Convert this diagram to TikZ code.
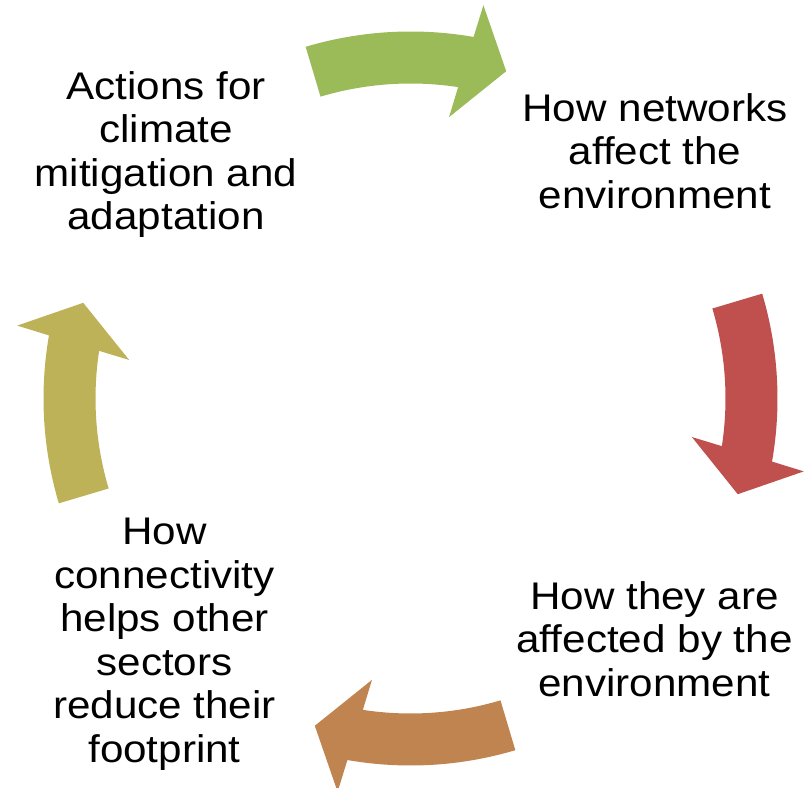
\documentclass[tikz,border=0pt]{standalone}
\usepackage{fontspec}
\setmainfont{Liberation Sans}[FakeStretch=1.095]
\definecolor{cyclegreen}{RGB}{155,187,89}
\definecolor{cyclered}{RGB}{192,80,77}
\definecolor{cyclebrown}{RGB}{192,132,80}
\definecolor{cycleolive}{RGB}{189,178,88}
\tikzset{
  label text/.style={align=center, inner sep=0pt, text=black,
    font=\fontsize{28.9}{32.6}\selectfont},
}
\begin{document}
\begin{tikzpicture}[x=0.75pt,y=0.75pt]
\useasboundingbox (0,0) rectangle (806,788);
% four curved block arrows around a common centre, running clockwise
\begin{scope}[shift={(410.5,389.5)}]
\foreach \a/\c in {90/cyclegreen, 0/cyclered, -90/cyclebrown, 180/cycleolive}{
  \fill[\c] ({\a+16.6}:367)
    arc[start angle={\a+16.6}, end angle={\a-9.9}, radius=275.25pt]
    -- ({\a-10.5}:400) -- ({\a-16.3}:341) -- ({\a-7.8}:284) -- ({\a-8.7}:315)
    arc[start angle={\a-8.7}, end angle={\a+16.6}, radius=236.25pt]
    -- cycle;
}
\end{scope}
% stage labels
\node[label text] (actions) at (166,633.4) {Actions for\\climate\\mitigation and\\adaptation};
\node[label text] (affect) at (655,636.9) {How networks\\affect the\\environment};
\node[label text] (affected) at (654.5,149.0) {How they are\\affected by the\\environment};
\node[label text] (connect) at (164.5,143.6) {How\\connectivity\\helps other\\sectors\\reduce their\\footprint};
\end{tikzpicture}
\end{document}
